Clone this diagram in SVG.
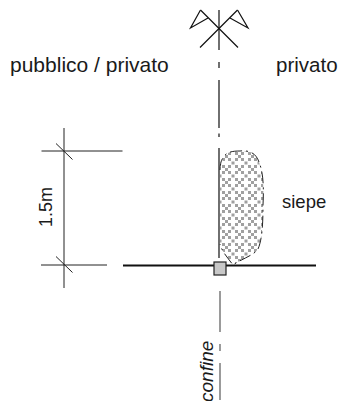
<svg xmlns="http://www.w3.org/2000/svg" width="343" height="401" viewBox="0 0 343 401">
<style>
.t{font-family:"Liberation Sans",Arial,sans-serif;font-size:20px;fill:#1a1a1a}
.l{fill:none;stroke:#222;stroke-width:1}
.m{fill:none;stroke:#111;stroke-width:1.2}
</style>
<defs>
<pattern id="chk" width="13" height="13" patternUnits="userSpaceOnUse" patternTransform="translate(222 152)">
<rect width="13" height="13" fill="#fff"/>
<g fill="#a0a0a0">
<rect x="0" y="0" width="3" height="3"/><rect x="6" y="0" width="3" height="3"/>
<rect x="3" y="3" width="3" height="3"/>
<rect x="0" y="6" width="3" height="3"/><rect x="6" y="6" width="3" height="3"/>
<rect x="9.500" y="9.500" width="3" height="3"/>
</g>
</pattern>
</defs>
<g id="hedge">
<path d="M223 158C226 152 232 151 240 151C249 150 256 153 259 162C263 172 264 185 263 205C263 225 262 240 258 249C253 256 243 258 233 265C228 258 222 252 220 244L220 170Z" fill="url(#chk)" stroke="none"/>
<path d="M220 170C220 165 221 160 223 158C226 152 232 151 240 151C249 150 256 153 259 162C263 172 264 185 263 205C263 225 262 240 258 249C253 256 243 258 233 265C228 258 222 252 220 244" fill="none" stroke="#222" stroke-width="1" stroke-dasharray="12 4 2 4"/>
</g>
<g id="connectors">
<path class="m" d="M219 10V50M219 62V68M219 80V128M219 133.500V137M219 148V258"/>
<path fill="none" stroke="#666" stroke-width="1.300" d="M220 291V332M220 344V351M220 363V400"/>
</g>
<g id="symbol">
<path class="m" d="M200.500 10L238 47.500M237.500 10L200 47.500"/>
<path class="m" d="M200.500 10L190.500 28 208 18M237.500 10L248 28 230 18"/>
</g>
<g id="dimension">
<path class="l" d="M64 128V288M41.500 151H122.500M41 265H107"/>
<path class="l" d="M56 143.500L72.500 159.500M56 256.500L72.500 272.500"/>
<text class="t" style="font-size:18px" transform="translate(52 227) rotate(-90)">1.5m</text>
</g>
<g id="boundary">
<path d="M123 265.500H316" fill="none" stroke="#111" stroke-width="2.200"/>
<rect x="214" y="262" width="12" height="13" fill="#c8c8c8" stroke="#222" stroke-width="1.200"/>
</g>
<g id="labels">
<text class="t" x="10" y="72" style="font-size:21px">pubblico / privato</text>
<text class="t" x="276" y="71.500" style="font-size:20.500px">privato</text>
<text class="t" x="282" y="207.500" style="font-size:18.500px">siepe</text>
<text class="t" font-style="italic" style="font-size:19px" transform="translate(213 402) rotate(-90)">confine</text>
</g>
</svg>
